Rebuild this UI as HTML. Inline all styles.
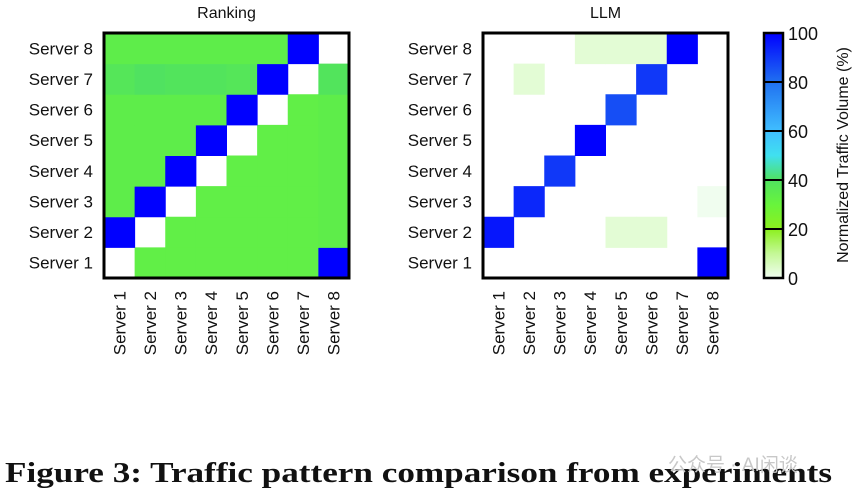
<!DOCTYPE html>
<html><head><meta charset="utf-8"><style>
body{margin:0;background:#fff;}
svg text{font-family:"Liberation Sans","Noto Sans CJK SC",sans-serif;fill:#111;}
</style></head><body>
<svg id="fig" width="861" height="499" viewBox="0 0 861 499">
<g id="cbar"></g>
<text x="5" y="482" textLength="827" lengthAdjust="spacingAndGlyphs" style="font-family:'Liberation Serif',serif;font-weight:bold;font-size:29px">Figure 3: Traffic pattern comparison from experiments</text>
<text x="668" y="471" style="font-size:19px;fill:#c8c8c8">公众号 · AI闲谈</text>
</svg>
<script>
const servers = ["Server 1","Server 2","Server 3","Server 4","Server 5","Server 6","Server 7","Server 8"];
// rows = source server 1..8 (bottom to top), cols = server 1..8; null = white
const rankingValues = [
 [null,33,33,33,33,33,33,100],
 [100,null,33,33,33,33,33,34],
 [34,100,null,33,33,33,33,34],
 [34,34,100,null,33,33,33,34],
 [34,34,34,100,null,33,33,34],
 [34,34,34,34,100,null,33,34],
 [38,40,39,39,38,100,null,39],
 [34,34,34,34,34,34,100,null]
];
const llmValues = [
 [null,null,null,null,null,null,null,100],
 [96,null,null,null,3,3,null,null],
 [null,93,null,null,null,null,null,0.1],
 [null,null,90,null,null,null,null,null],
 [null,null,null,100,null,null,null,null],
 [null,null,null,null,86,null,null,null],
 [null,3,null,null,null,90,null,null],
 [null,null,null,3,3,3,100,null]
];
const cbarTicks = [0,20,40,60,80,100];
const stops = [[0,[240,253,240]],[10,[196,248,150]],[20,[140,240,30]],[30,[104,244,60]],[40,[80,226,96]],[50,[64,224,240]],[60,[64,190,255]],[80,[32,112,240]],[100,[0,0,255]]];
function cmap(v){
  for(let i=1;i<stops.length;i++){
    if(v<=stops[i][0]){const a=stops[i-1],b=stops[i];const t=(v-a[0])/(b[0]-a[0]);
      const c=a[1].map((x,k)=>Math.round(x+(b[1][k]-x)*t));return `rgb(${c.join(',')})`;}
  }
  return 'rgb(0,0,255)';
}
const NS="http://www.w3.org/2000/svg";
const svg=document.getElementById('fig');
function mk(tag,attrs,parent){const e=document.createElementNS(NS,tag);for(const k in attrs)e.setAttribute(k,attrs[k]);(parent||svg).appendChild(e);return e;}
function heatmap(x0,y0,size,vals,title,name){
  const g=mk('g',{});
  
  
  const cs=size/8;
  const xs=c=>x0+c*cs, ys=r=>y0+(7-r)*cs;
  vals.forEach((row,r)=>row.forEach((v,c)=>{
    if(v===null)return;
    const rc=mk('rect',{x:xs(c),y:ys(r),width:cs+0.5,height:cs+0.5,fill:cmap(v)},g);
    
    
  }));
  const fr=mk('rect',{x:x0,y:y0,width:size,height:size,fill:'none',stroke:'#000','stroke-width':3},g);
  
  
  const t=mk('text',{x:x0+size/2,y:18,'text-anchor':'middle','font-size':16},g);t.textContent=title;
  
  
  servers.forEach((s,i)=>{
    const yl=mk('text',{x:x0-11,y:ys(i)+cs/2+6,'text-anchor':'end','font-size':17},g);yl.textContent=s;
    
    
    const cx=xs(i)+cs/2+6;
    const xl=mk('text',{x:cx,y:291,'text-anchor':'end','font-size':17,transform:`rotate(-90 ${cx} 291)`},g);xl.textContent=s;
    
    
  });
}
heatmap(104,33,245,rankingValues,'Ranking','ranking');
heatmap(483,33,245,llmValues,'LLM','llm');
const cb=document.getElementById('cbar');
const cbx=764,cby=33,cbw=19,cbh=245;
const defs=mk('defs',{},cb);
const lg=mk('linearGradient',{id:'cg',x1:0,y1:1,x2:0,y2:0},defs);
for(let v=0;v<=100;v+=5){mk('stop',{offset:v/100,'stop-color':cmap(v)},lg);}
mk('rect',{x:cbx,y:cby,width:cbw,height:cbh,fill:'url(#cg)',stroke:'#000','stroke-width':2.5},cb);
cbarTicks.forEach(v=>{
  const y=cby+cbh-v/100*cbh;
  if(v>0&&v<100){const l=mk('line',{x1:cbx,x2:cbx+cbw,y1:y,y2:y,stroke:'#000','stroke-width':2},cb);
    
    }
  const t=mk('text',{x:788,y:y+7,'font-size':18},cb);t.textContent=v;
  
  
});
const ct=mk('text',{x:848,y:155,'text-anchor':'middle','font-size':16,transform:'rotate(-90 848 155)'},cb);
ct.textContent='Normalized Traffic Volume (%)';


</script>
</body></html>
